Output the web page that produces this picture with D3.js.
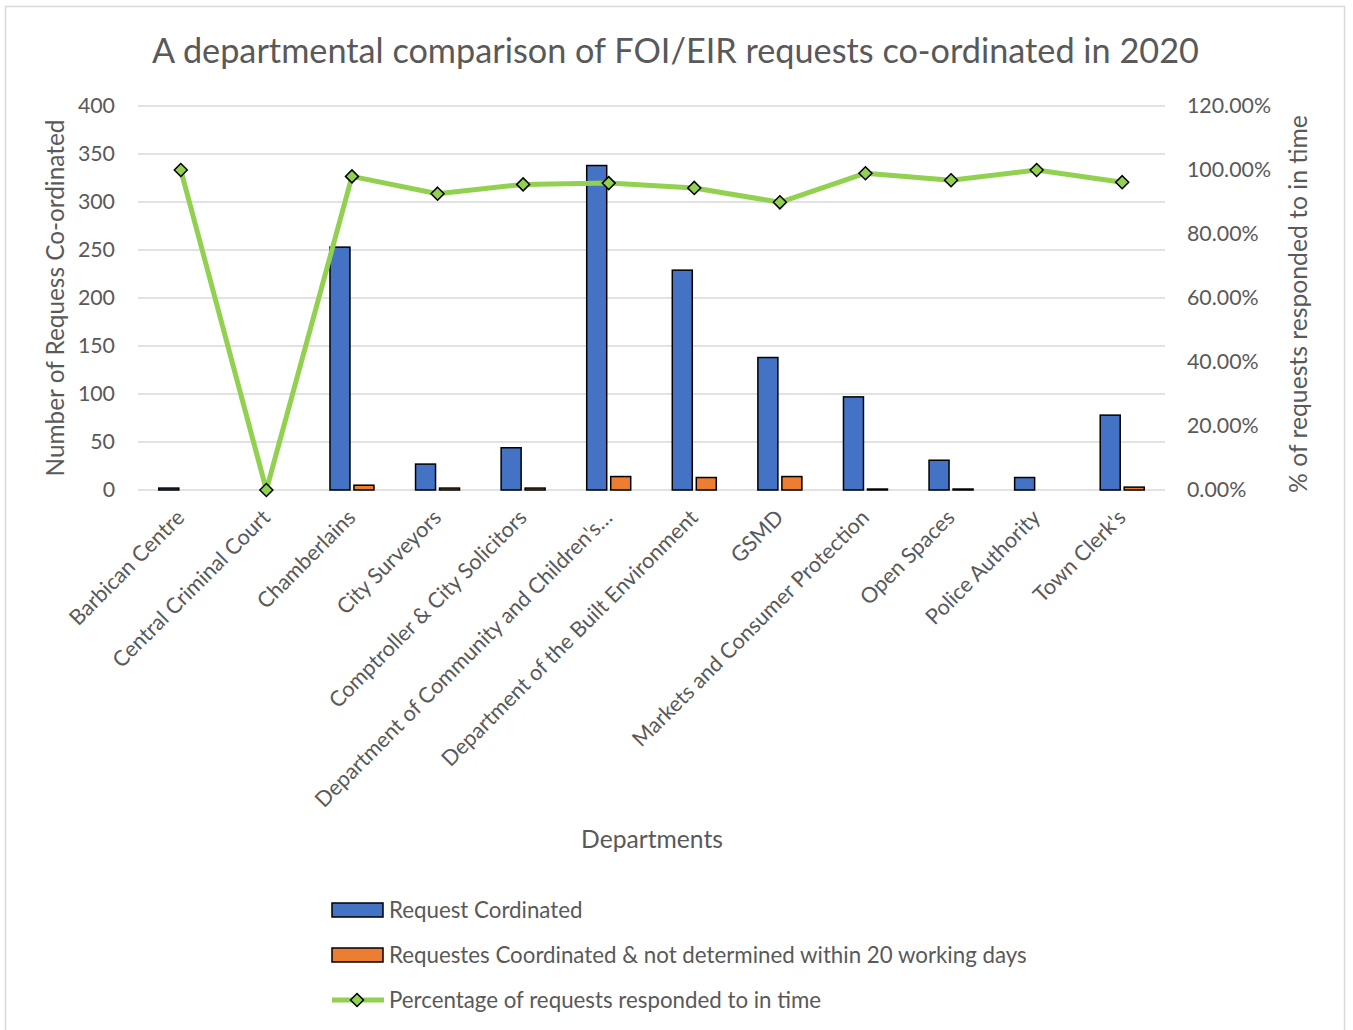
<!DOCTYPE html>
<html>
<head>
<meta charset="utf-8">
<script src="https://cdn.jsdelivr.net/npm/d3@7"></script>
<style>
  body { margin: 0; background: #fff; }
  text { font-family: Lato, "Open Sans", "Noto Sans", sans-serif; fill: #595959; }
</style>
</head>
<body>
<svg id="chart" width="1353" height="1030"></svg>
<script>
// Departments on the category axis
const departments = [
  "Barbican Centre",
  "Central Criminal Court",
  "Chamberlains",
  "City Surveyors",
  "Comptroller & City Solicitors",
  "Department of Community and Children's…",
  "Department of the Built Environment",
  "GSMD",
  "Markets and Consumer Protection",
  "Open Spaces",
  "Police Authority",
  "Town Clerk's"
];

// Requests co-ordinated per department
const requestsCoordinated = [2, 0, 253, 27, 44, 338, 229, 138, 97, 31, 13, 78];

// Requests co-ordinated and not determined within 20 working days
const notDeterminedIn20Days = [0, 0, 5, 2, 2, 14, 13, 14, 1, 1, 0, 3];

// Share of requests responded to in time (right axis)
const pctInTime = [1.00, 0.00, 0.980, 0.926, 0.955, 0.959, 0.944, 0.899, 0.990, 0.968, 1.00, 0.962];

// Axis ticks
const countTicks = [0, 50, 100, 150, 200, 250, 300, 350, 400];
const pctTicks = [0, 0.2, 0.4, 0.6, 0.8, 1.0, 1.2];

const titleText = "A departmental comparison of FOI/EIR requests co-ordinated in 2020";
const xTitleText = "Departments";
const yLeftTitleText = "Number of Requess Co-ordinated";
const yRightTitleText = "% of requests responded to in time";
const legendLabels = [
  "Request Cordinated",
  "Requestes Coordinated & not determined within 20 working days",
  "Percentage of requests responded to in time"
];

const COLORS = { blue: "#4472C4", orange: "#ED7D31", green: "#92D050", grid: "#D9D9D9" };

const svg = d3.select("#chart");

// Scale a text so it spans the given width; returns the resulting font size
function fitWidth(sel, width) {
  const node = sel.node();
  const fs = parseFloat(sel.style("font-size"));
  const len = node.getComputedTextLength();
  const size = fs * width / len;
  sel.style("font-size", size + "px");
  return size;
}

// Chart frame
svg.append("rect")
  .attr("x", 5.5).attr("y", 6.5)
  .attr("width", 1339).attr("height", 1100)
  .attr("fill", "#fff").attr("stroke", COLORS.grid).attr("stroke-width", 1.5);

const plot = { left: 138, right: 1165, top: 106, bottom: 490 };

const x = d3.scaleBand().domain(departments).range([plot.left, plot.right]).padding(0);
const yCount = d3.scaleLinear().domain([0, 400]).range([plot.bottom, plot.top]);
const yPct = d3.scaleLinear().domain([0, 1.2]).range([plot.bottom, plot.top]);
const cx = d => x(d) + x.bandwidth() / 2;

// Gridlines
svg.append("g")
  .selectAll("line").data(countTicks).join("line")
  .attr("x1", plot.left).attr("x2", plot.right)
  .attr("y1", d => yCount(d)).attr("y2", d => yCount(d))
  .attr("stroke", COLORS.grid).attr("stroke-width", 1.5);

// Left axis
const leftAxis = d3.axisLeft(yCount).tickValues(countTicks).tickSize(0).tickPadding(0);
const gL = svg.append("g").attr("transform", "translate(115,0)").call(leftAxis);
gL.select(".domain").remove();

// Right axis
const rightAxis = d3.axisRight(yPct).tickValues(pctTicks).tickSize(0).tickPadding(0).tickFormat(d3.format(".2%"));
const gR = svg.append("g").attr("transform", "translate(1187,0)").call(rightAxis);
gR.select(".domain").remove();

[gL, gR].forEach(g => g.selectAll("text")
  .attr("fill", "#595959")
  .style("font-family", "Lato, 'Open Sans', sans-serif")
  .style("font-size", "20px"));
const tickSize = fitWidth(gR.selectAll("text").filter(d => d === 1.2), 84);
gL.selectAll("text").style("font-size", tickSize + "px");
gR.selectAll("text").style("font-size", tickSize + "px");

// Bars
const barW = 20, barGap = 2;
const bars = svg.append("g");
bars.selectAll("rect.req").data(departments).join("rect")
  .attr("class", "req")
  .attr("x", d => cx(d) - barGap - barW)
  .attr("width", barW)
  .attr("y", (d, i) => yCount(requestsCoordinated[i]))
  .attr("height", (d, i) => yCount(0) - yCount(requestsCoordinated[i]))
  .attr("fill", COLORS.blue).attr("stroke", "#000").attr("stroke-width", 1.5);
bars.selectAll("rect.late").data(departments).join("rect")
  .attr("class", "late")
  .attr("x", d => cx(d) + barGap)
  .attr("width", barW)
  .attr("y", (d, i) => yCount(notDeterminedIn20Days[i]))
  .attr("height", (d, i) => yCount(0) - yCount(notDeterminedIn20Days[i]))
  .attr("fill", COLORS.orange).attr("stroke", "#000").attr("stroke-width", 1.5);

// Percentage line with diamond markers
const diamond = "M0,-6.5L6.5,0L0,6.5L-6.5,0Z";
const line = d3.line().x((d, i) => cx(departments[i])).y(d => yPct(d));
svg.append("path").datum(pctInTime)
  .attr("d", line)
  .attr("fill", "none").attr("stroke", COLORS.green)
  .attr("stroke-width", 5).attr("stroke-linejoin", "round").attr("stroke-linecap", "round");
svg.append("g").selectAll("path").data(pctInTime).join("path")
  .attr("d", diamond)
  .attr("transform", (d, i) => `translate(${cx(departments[i])},${yPct(d)})`)
  .attr("fill", COLORS.green).attr("stroke", "#000").attr("stroke-width", 1.5);

// Category labels, rotated
const xl = svg.append("g").selectAll("text").data(departments).join("text")
  .attr("text-anchor", "end")
  .attr("transform", d => `translate(${cx(d) + 5},519) rotate(-45)`)
  .style("font-size", "20px")
  .text(d => d);
const catSize = fitWidth(xl.filter((d, i) => i === 5), 410);
xl.style("font-size", catSize + "px");

// Title
const title = svg.append("text")
  .attr("x", 675.5).attr("y", 63).attr("text-anchor", "middle")
  .style("font-size", "30px").text(titleText);
fitWidth(title, 1047);

// Axis titles
const xt = svg.append("text")
  .attr("x", 652).attr("y", 848).attr("text-anchor", "middle")
  .style("font-size", "21px").text(xTitleText);
fitWidth(xt, 142);

const ylt = svg.append("text")
  .attr("transform", "translate(64,298) rotate(-90)").attr("text-anchor", "middle")
  .style("font-size", "21px").text(yLeftTitleText);
fitWidth(ylt, 357);

const yrt = svg.append("text")
  .attr("transform", "translate(1307,304) rotate(-90)").attr("text-anchor", "middle")
  .style("font-size", "21px").text(yRightTitleText);
fitWidth(yrt, 378);

// Legend
const legendRows = [910, 955, 1000];
const lg = svg.append("g");
lg.append("rect").attr("x", 332).attr("y", legendRows[0] - 7).attr("width", 51).attr("height", 14)
  .attr("fill", COLORS.blue).attr("stroke", "#000").attr("stroke-width", 1.5);
lg.append("rect").attr("x", 332).attr("y", legendRows[1] - 7).attr("width", 51).attr("height", 14)
  .attr("fill", COLORS.orange).attr("stroke", "#000").attr("stroke-width", 1.5);
lg.append("line").attr("x1", 332).attr("x2", 384).attr("y1", legendRows[2]).attr("y2", legendRows[2])
  .attr("stroke", COLORS.green).attr("stroke-width", 5);
lg.append("path").attr("d", diamond).attr("transform", `translate(357,${legendRows[2]})`)
  .attr("fill", COLORS.green).attr("stroke", "#000").attr("stroke-width", 1.5);
const lt = lg.selectAll("text.lab").data(legendLabels).join("text")
  .attr("class", "lab")
  .attr("x", 389).attr("y", (d, i) => legendRows[i]).attr("dy", "0.35em")
  .style("font-size", "20px").text(d => d);
const legSize = fitWidth(lt.filter((d, i) => i === 1), 638);
lt.style("font-size", legSize + "px");
</script>
</body>
</html>
